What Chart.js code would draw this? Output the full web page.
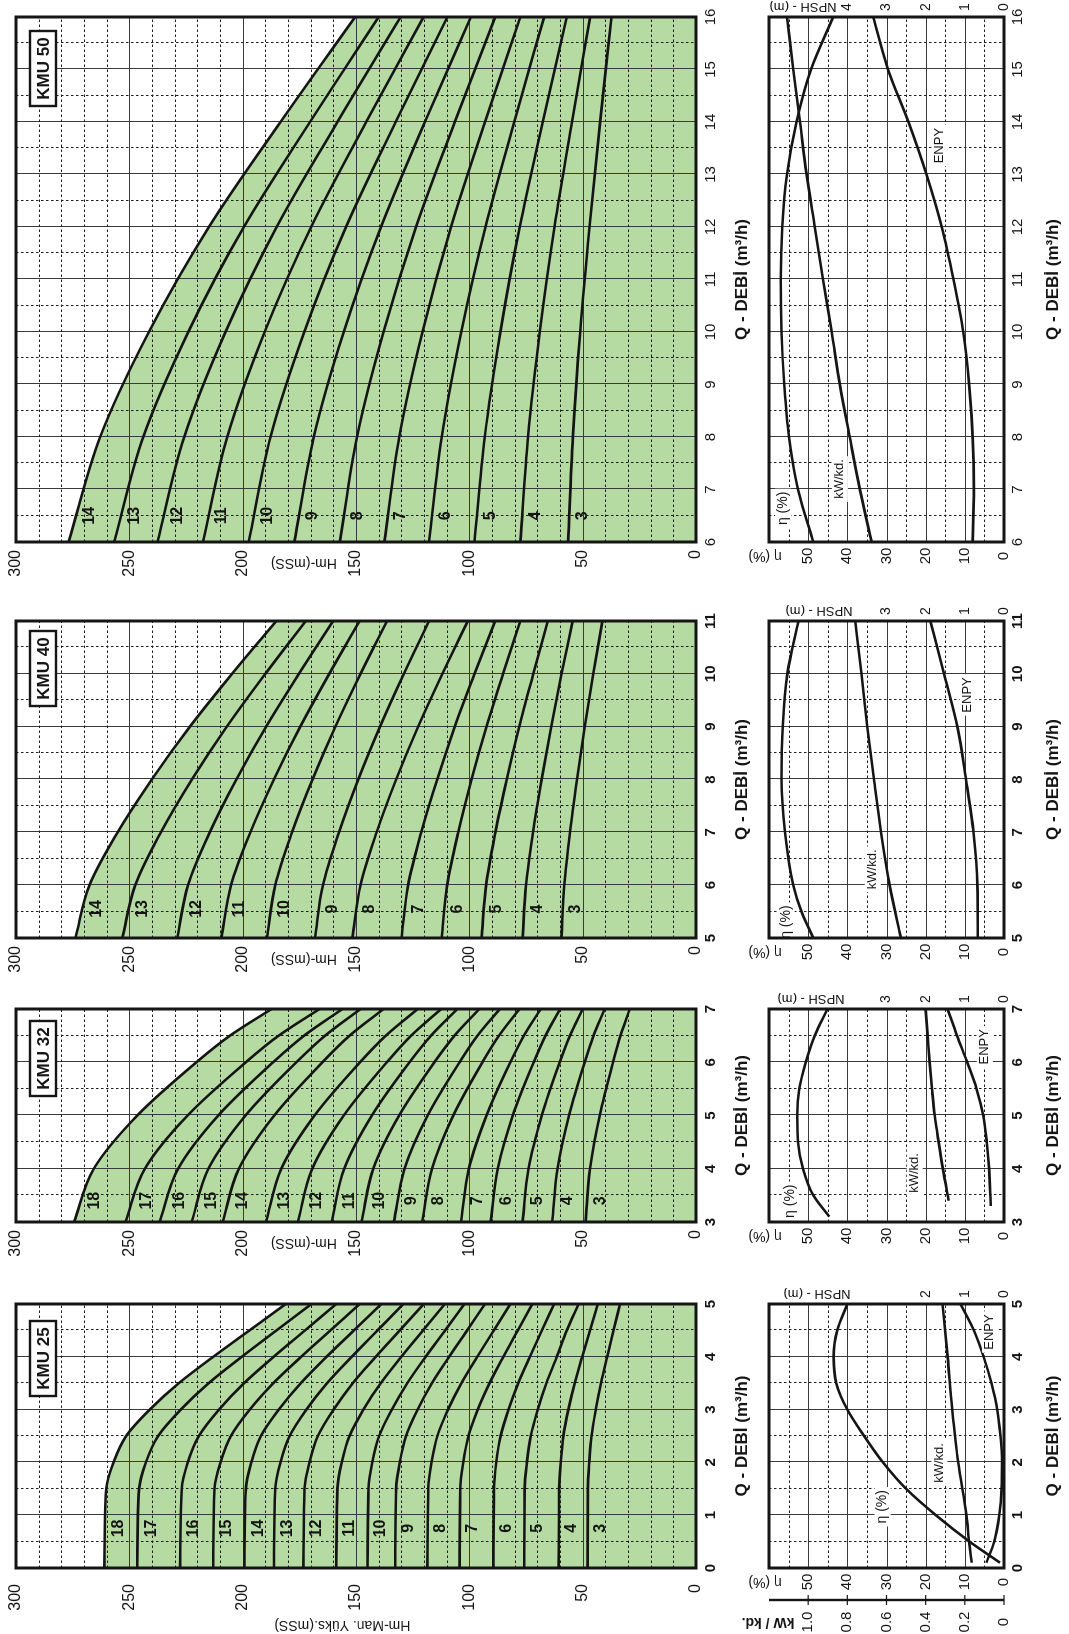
<!DOCTYPE html>
<html>
<head>
<meta charset="utf-8">
<script src="https://cdn.jsdelivr.net/npm/chart.js@4/dist/chart.umd.min.js"></script>
<style>
html, body { margin: 0; padding: 0; background: #fff; overflow: hidden; }
body { width: 1069px; height: 1634px; position: relative; }
/* the sheet is laid out landscape and turned a quarter left, like the printed page */
#page { position: absolute; left: 0; top: 0; width: 1634px; height: 1069px;
        transform-origin: 0 0; transform: translate(0, 1634px) rotate(-90deg); }
#page canvas { position: absolute; }
</style>
</head>
<body>
<div id="page"></div>
<script>
/* pump curves KMU 25 / 32 / 40 / 50 */

// tick labels shared by the sheets
const headTicks = [0, 50, 100, 150, 200, 250, 300];
const etaTicks = [0, 10, 20, 30, 40, 50];
const kwTicks = [0, 0.2, 0.4, 0.6, 0.8, 1.0];

// ---------- KMU 25 ----------
const kmu25QTicks = [0, 1, 2, 3, 4, 5];
const kmu25Q = [0, 1.5, 2, 2.5, 3, 3.5, 4, 4.5, 5];
const kmu25Stages = [18, 17, 16, 15, 14, 13, 12, 11, 10, 9, 8, 7, 6, 5, 4, 3];
const kmu25Head = [
    [261, 260.2, 257, 251.4, 241, 228.2, 213, 197, 181],
    [246.5, 245.7, 242.7, 237.3, 227.3, 215, 200.4, 185.1, 169.7],
    [227.6, 226.9, 224.2, 219.3, 210.4, 199.4, 186.3, 172.5, 158.7],
    [213, 212.4, 209.8, 205.2, 196.9, 186.5, 174.2, 161.3, 148.4],
    [199.2, 198.6, 196.2, 192, 184.1, 174.4, 163, 150.9, 138.8],
    [186.2, 185.6, 183.3, 179.3, 171.9, 162.8, 151.9, 140.5, 129.1],
    [173.2, 172.7, 170.5, 166.8, 159.9, 151.4, 141.3, 130.7, 120.1],
    [158.7, 158.2, 156.3, 152.9, 146.7, 139.1, 130, 120.4, 110.8],
    [144.9, 144.5, 142.8, 139.8, 134.2, 127.4, 119.3, 110.7, 102.2],
    [132.7, 132.3, 130.7, 127.9, 122.8, 116.5, 108.9, 101, 93.1],
    [118.5, 118.1, 116.7, 114.1, 109.4, 103.5, 96.5, 89.2, 81.9],
    [104.3, 104, 102.7, 100.4, 96.3, 91.1, 85, 78.6, 72.2],
    [89.4, 89.1, 88.1, 86.2, 82.7, 78.4, 73.3, 68, 62.6],
    [75.8, 75.6, 74.6, 72.9, 69.8, 66, 61.4, 57, 51.8],
    [60.6, 60.4, 59.7, 58.5, 56.3, 53.5, 50.2, 46.8, 43.3],
    [47.8, 47.7, 47.1, 46.1, 44.2, 41.9, 39.2, 36.4, 33.5]
];
const kmu25EtaQ = [0.1, 0.5, 1, 1.5, 2, 2.5, 3, 3.5, 4, 4.5, 5];
const kmu25Eta = [1, 8.8, 17.4, 25, 30.9, 35.7, 40, 42.8, 43.5, 42.6, 40];
const kmu25KwQ = [0.1, 0.5, 1, 2, 3, 4, 5];
const kmu25Kw = [0.165, 0.178, 0.192, 0.234, 0.264, 0.288, 0.314];
const kmu25NpshQ = [0.1, 0.5, 1, 1.5, 2, 2.5, 3, 3.5, 4, 4.5, 5];
const kmu25Npsh = [0.45, 0.25, 0.12, 0.06, 0.05, 0.09, 0.17, 0.32, 0.52, 0.77, 1.11];
const kmu25NpshTicks = [0, 1, 2];

// ---------- KMU 32 ----------
const kmu32QTicks = [3, 4, 5, 6, 7];
const kmu32Q = [3, 4, 5, 6, 6.5, 7];
const kmu32Stages = [18, 17, 16, 15, 14, 13, 12, 11, 10, 9, 8, 7, 6, 5, 4, 3];
const kmu32Head = [
    [274.4, 265.7, 246.5, 220.4, 205.6, 187.3],
    [251.7, 243.1, 224.3, 198.6, 184.1, 166.1],
    [236.6, 228.5, 210.8, 186.6, 172.9, 156.0],
    [222.5, 215.1, 198.7, 176.3, 163.6, 148.0],
    [208.8, 201.7, 186.1, 164.8, 152.8, 137.9],
    [189.7, 183.0, 168.3, 148.2, 136.8, 122.8],
    [175.6, 169.3, 155.4, 136.4, 125.7, 112.4],
    [160.7, 155.2, 143.0, 126.4, 116.9, 105.3],
    [147.6, 142.4, 131.0, 115.4, 106.5, 95.6],
    [133.3, 128.6, 118.4, 104.3, 96.4, 86.6],
    [120.8, 116.5, 107.1, 94.2, 86.9, 77.9],
    [103.7, 100.2, 92.4, 81.9, 75.9, 68.5],
    [90.6, 87.5, 80.8, 71.6, 66.4, 60.0],
    [76.5, 73.9, 68.0, 60.1, 55.6, 50.0],
    [63.4, 61.1, 56.0, 49.1, 45.2, 40.3],
    [48.7, 46.8, 42.5, 36.6, 33.3, 29.2]
];
const kmu32EtaQ = [3.1, 3.5, 4, 4.5, 5, 5.5, 6, 6.5, 7];
const kmu32Eta = [44.6, 48.7, 51.3, 52.6, 52.8, 52.3, 50.6, 48.3, 45.1];
const kmu32KwQ = [3.4, 4, 4.5, 5, 5.5, 6, 6.5, 7];
const kmu32Kw = [14.1, 15.6, 16.7, 17.7, 18.4, 19, 19.5, 20];
const kmu32NpshQ = [3.3, 4, 4.5, 5, 5.5, 6, 6.5, 7];
const kmu32Npsh = [0.34, 0.38, 0.44, 0.53, 0.7, 0.94, 1.2, 1.44];
const kmu32NpshTicks = [0, 1, 2, 3];

// ---------- KMU 40 ----------
const kmu40QTicks = [5, 6, 7, 8, 9, 10, 11];
const kmu40Q = [5, 6, 7, 8, 9, 10, 11];
const kmu40Stages = [14, 13, 12, 11, 10, 9, 8, 7, 6, 5, 4, 3];
const kmu40Head = [
    [273.8, 267.6, 255.2, 240.1, 223.3, 204.7, 185.2],
    [253.1, 247.4, 236.1, 222.4, 207.0, 190.0, 172.2],
    [228.9, 224.1, 214.5, 202.8, 189.7, 175.2, 160.1],
    [209.4, 205.1, 196.6, 186.2, 174.6, 161.8, 148.4],
    [189.3, 185.6, 178.2, 169.2, 159.1, 148.0, 136.3],
    [168.1, 164.6, 157.5, 149.0, 139.4, 128.9, 117.8],
    [151.6, 148.0, 140.9, 132.3, 122.6, 111.9, 100.7],
    [129.9, 127.0, 121.2, 114.2, 106.4, 97.7, 88.6],
    [112.2, 109.8, 104.9, 99.0, 92.4, 85.1, 77.5],
    [94.6, 92.6, 88.5, 83.5, 78.0, 71.8, 65.4],
    [76.5, 75.0, 71.9, 68.1, 63.9, 59.3, 54.4],
    [59.4, 58.1, 55.6, 52.5, 49.1, 45.3, 41.3]
];
const kmu40EtaQ = [5, 5.5, 6, 7, 8, 9, 10, 11];
const kmu40Eta = [48.7, 51.7, 53.8, 55.9, 56.8, 56.5, 55.3, 52.5];
const kmu40KwQ = [5, 6, 7, 8, 9, 10, 11];
const kmu40Kw = [26.3, 29.2, 31.4, 33.2, 34.9, 36.4, 38];
const kmu40NpshQ = [5, 6, 7, 8, 9, 10, 11];
const kmu40Npsh = [0.67, 0.68, 0.78, 0.97, 1.19, 1.53, 1.88];
const kmu40NpshTicks = [0, 1, 2, 3];

// ---------- KMU 50 ----------
const kmu50QTicks = [6, 7, 8, 9, 10, 11, 12, 13, 14, 15, 16];
const kmu50Q = [6, 8, 10, 12, 14, 16];
const kmu50Stages = [14, 13, 12, 11, 10, 9, 8, 7, 6, 5, 4, 3];
const kmu50Head = [
    [276.8, 262.9, 241.4, 214.9, 183.3, 150.4],
    [256.7, 243.9, 224.0, 199.5, 170.3, 140.0],
    [237.6, 225.8, 207.6, 185.0, 158.2, 130.3],
    [217.5, 206.8, 190.3, 169.8, 145.5, 120.2],
    [197.3, 187.7, 172.8, 154.4, 132.5, 109.7],
    [177.2, 168.6, 155.4, 139.0, 119.6, 99.3],
    [157.1, 149.6, 137.9, 123.5, 106.4, 88.6],
    [137.5, 130.9, 120.7, 108.1, 93.1, 77.5],
    [117.8, 112.2, 103.6, 92.9, 80.2, 67.0],
    [97.7, 93.2, 86.3, 77.8, 67.6, 57.0],
    [77.5, 74.1, 68.9, 62.4, 54.7, 46.7],
    [56.4, 54.3, 51.1, 47.0, 42.3, 37.3]
];
const kmu50EffQ = [6, 7, 8, 9, 10, 11, 12, 13, 14, 15, 16];
const kmu50Eta = [48.7, 52.6, 54.9, 56.1, 56.8, 57, 56.6, 55.4, 53, 49.3, 43.6];
const kmu50Kw = [33.8, 36.8, 39.4, 41.9, 44, 46.2, 48.3, 50.4, 52.1, 53.8, 55.4];
const kmu50Npsh = [0.8, 0.77, 0.8, 0.89, 1.04, 1.29, 1.59, 1.98, 2.44, 2.96, 3.34];
const kmu50NpshTicks = [0, 1, 2, 3, 4];

const effLabels = ['η (%)', 'kW/kd.', 'ENPY'];

// ---------- drawing helpers ----------
const FONT = '"Liberation Sans", Arial, Helvetica, sans-serif';
const INK = '#151515';
const GREEN = '#b6dba2';
const page = document.getElementById('page');

const addCanvas = (left, top, width, height) => {
    const c = document.createElement('canvas');
    c.width = width;
    c.height = height;
    c.style.left = left + 'px';
    c.style.top = top + 'px';
    c.style.width = width + 'px';
    c.style.height = height + 'px';
    page.appendChild(c);
    return c;
};

const points = (xs, ys) => xs.map((x, i) => ({ x: x, y: ys[i] }));

// linear lookup, only used to park the stage numbers next to their curve
const valueAt = (xs, ys, x) => {
    for (let i = 1; i < xs.length; i += 1) {
        if (x <= xs[i]) {
            const t = (x - xs[i - 1]) / (xs[i] - xs[i - 1]);
            return ys[i - 1] + t * (ys[i] - ys[i - 1]);
        }
    }
    return ys[ys.length - 1];
};

const text = (ctx, s, x, y, font, align, rot) => {
    ctx.save();
    ctx.font = font;
    ctx.fillStyle = INK;
    ctx.textAlign = align || 'center';
    ctx.textBaseline = 'middle';
    ctx.translate(x, y);
    if (rot) ctx.rotate(rot);
    ctx.fillText(s, 0, 0);
    ctx.restore();
};

const gridLine = (ctx, x1, y1, x2, y2, major) => {
    ctx.beginPath();
    ctx.setLineDash(major ? [] : [2.5, 2.5]);
    ctx.strokeStyle = major ? '#3a3a3a' : '#1e1e1e';
    ctx.moveTo(x1, y1);
    ctx.lineTo(x2, y2);
    ctx.stroke();
};

/* solid lines on whole Q and on every yMajor, dashed on half Q and every yMinor */
const drawGrid = (chart, yMinor, yMajor) => {
    const { ctx, chartArea: a } = chart;
    const xs = chart.scales.x;
    const ys = chart.scales.y;
    ctx.save();
    ctx.lineWidth = 1;
    for (let q = xs.min + 0.5; q < xs.max - 1e-6; q += 0.5) {
        const px = Math.round(xs.getPixelForValue(q)) + 0.5;
        gridLine(ctx, px, a.top, px, a.bottom, Math.abs(q - Math.round(q)) < 1e-6);
    }
    for (let h = yMinor; h < ys.max - 1e-6; h += yMinor) {
        const py = Math.round(ys.getPixelForValue(h)) + 0.5;
        gridLine(ctx, a.left, py, a.right, py, Math.abs(h / yMajor - Math.round(h / yMajor)) < 1e-6);
    }
    ctx.restore();
};

const drawFrame = (chart) => {
    const { ctx, chartArea: a } = chart;
    ctx.save();
    ctx.lineWidth = 3;
    ctx.strokeStyle = INK;
    ctx.strokeRect(a.left, a.top, a.right - a.left, a.bottom - a.top);
    ctx.restore();
};

const qTitle = 'Q - DEBİ (m³/h)';

const drawQAxis = (chart, ticks, bold, tickGap, titleGap) => {
    const { ctx, chartArea: a, scales: { x } } = chart;
    const font = (bold ? 'bold ' : '') + '15px ' + FONT;
    ticks.forEach((q) => text(ctx, String(q), x.getPixelForValue(q), a.bottom + tickGap, font));
    text(ctx, qTitle, (a.left + a.right) / 2, a.bottom + titleGap, 'bold 17px ' + FONT);
};

const baseOptions = (padding) => ({
    responsive: false,
    animation: false,
    events: [],
    devicePixelRatio: 1,
    layout: { padding: padding },
    plugins: { legend: { display: false }, tooltip: { enabled: false } },
    elements: { point: { radius: 0 } }
});

const curve = (data, yAxisID) => ({
    data: data,
    yAxisID: yAxisID || 'y',
    borderColor: INK,
    borderWidth: 2.6,
    pointRadius: 0,
    fill: false,
    cubicInterpolationMode: 'monotone'
});

/* head chart: one curve per stage count, green area under the top curve */
const headChart = (p) => {
    const left = p.plotLeft - 66;
    const canvas = addCanvas(left, 0, p.plotRight - left + 14, 760);

    const datasets = p.stages.map((s, i) => curve(points(p.q, p.heads[i])));
    datasets.push({
        data: points(p.q, p.heads[0]),
        borderColor: 'rgba(0,0,0,0)',
        borderWidth: 1,
        backgroundColor: GREEN,
        fill: 'origin',
        pointRadius: 0,
        cubicInterpolationMode: 'monotone',
        isFill: true
    });

    const decor = {
        id: 'headDecor',
        afterDatasetDraw(chart, args) {
            if (chart.data.datasets[args.index].isFill) drawGrid(chart, 10, 50);
        },
        afterDatasetsDraw(chart) {
            const { ctx, chartArea: a, scales: { x, y } } = chart;

            p.stages.forEach((s, i) => {
                const h = valueAt(p.q, p.heads[i], p.labelQ);
                text(ctx, String(s), x.getPixelForValue(p.labelQ), y.getPixelForValue(h) + 13, 'bold 16px ' + FONT);
            });

            drawFrame(chart);

            headTicks.forEach((h) => text(ctx, String(h), a.left - p.tickGap, y.getPixelForValue(h), '16px ' + FONT, 'right'));
            if (p.longTitle) {
                text(ctx, 'Hm-Man. Yüks.(mSS)', a.left - 57, y.getPixelForValue(156), '14px ' + FONT, 'center', -Math.PI / 2);
            } else {
                text(ctx, 'Hm-(mSS)', a.left - 21, y.getPixelForValue(173), '14px ' + FONT, 'center', -Math.PI / 2);
            }

            drawQAxis(chart, p.qTicks, p.qBold, 15, 46);

            // model name box in the top corner
            const bw = 75;
            const bh = 26;
            const bx = a.right - p.boxGap - bw;
            const by = a.top + 14;
            ctx.save();
            ctx.fillStyle = '#fff';
            ctx.fillRect(bx, by, bw, bh);
            ctx.lineWidth = 2.4;
            ctx.strokeStyle = INK;
            ctx.strokeRect(bx, by, bw, bh);
            ctx.restore();
            text(ctx, p.name, bx + bw / 2, by + bh / 2 + 1, 'bold 17px ' + FONT);
        }
    };

    new Chart(canvas, {
        type: 'line',
        data: { datasets: datasets },
        options: Object.assign(baseOptions({ left: 66, right: 14, top: 16, bottom: 64 }), {
            scales: {
                x: { type: 'linear', min: p.qMin, max: p.qMax, display: false },
                y: { type: 'linear', min: 0, max: 300, display: false }
            }
        }),
        plugins: [decor]
    });
};

/* efficiency / power / NPSH chart under each head chart */
const effChart = (p) => {
    const left = p.plotLeft - 66;
    const canvas = addCanvas(left, 735, p.plotRight - left + 16, 334);

    const datasets = [
        curve(points(p.etaQ, p.eta)),
        curve(points(p.kwQ, p.kw), p.kwAxis ? 'yK' : 'y'),
        curve(points(p.npshQ, p.npsh), 'yN')
    ];

    const scales = {
        x: { type: 'linear', min: p.qMin, max: p.qMax, display: false },
        y: { type: 'linear', min: 0, max: 60, display: false },
        yN: { type: 'linear', min: 0, max: 6, display: false }
    };
    if (p.kwAxis) scales.yK = { type: 'linear', min: 0, max: 1.2, display: false };

    const decor = {
        id: 'effDecor',
        beforeDatasetsDraw(chart) {
            drawGrid(chart, 5, 10);
        },
        afterDatasetsDraw(chart) {
            const { ctx, chartArea: a, scales: { x, y } } = chart;

            effLabels.forEach((s, i) => {
                const font = (i === 0 ? '14px ' : '13px ') + FONT;
                const cx = x.getPixelForValue(p.labelAt[i][0]);
                const cy = y.getPixelForValue(p.labelAt[i][1]);
                ctx.save();
                ctx.font = font;
                const w = ctx.measureText(s).width;
                ctx.fillStyle = '#fff';
                ctx.fillRect(cx - w / 2 - 3, cy - 8, w + 6, 16);
                ctx.restore();
                text(ctx, s, cx, cy, font);
            });

            drawFrame(chart);

            etaTicks.forEach((v) => text(ctx, String(v), a.left - 14, y.getPixelForValue(v), '15px ' + FONT));
            text(ctx, 'η (%)', a.left - 14, a.top - 4, '14px ' + FONT, 'center', -Math.PI / 2);

            const yN = chart.scales.yN;
            p.npshTicks.forEach((v) => text(ctx, String(v), a.right + 10, yN.getPixelForValue(v), '14px ' + FONT));
            text(ctx, 'NPSH - (m)', a.right + 10, a.top + p.npshTitleAt, '13px ' + FONT, 'center', -Math.PI / 2);

            if (p.kwAxis) {
                const yK = chart.scales.yK;
                const ax = a.left - 32;
                ctx.save();
                ctx.strokeStyle = INK;
                ctx.lineWidth = 2.4;
                ctx.beginPath();
                ctx.moveTo(ax, a.top);
                ctx.lineTo(ax, a.bottom);
                ctx.stroke();
                ctx.lineWidth = 1.2;
                kwTicks.forEach((v) => {
                    const py = yK.getPixelForValue(v);
                    ctx.beginPath();
                    ctx.moveTo(ax - 5, py);
                    ctx.lineTo(ax + 5, py);
                    ctx.stroke();
                });
                ctx.restore();
                kwTicks.forEach((v) => text(ctx, v === 0 ? '0' : v.toFixed(1), a.left - 54, yK.getPixelForValue(v), '15px ' + FONT));
                text(ctx, 'kW / kd.', a.left - 54, a.top - 1, 'bold 14px ' + FONT, 'center', -Math.PI / 2);
            }

            drawQAxis(chart, p.qTicks, p.qBold, 14, 49);
        }
    };

    new Chart(canvas, {
        type: 'line',
        data: { datasets: datasets },
        options: Object.assign(baseOptions({ left: 66, right: 16, top: 34, bottom: 65 }), { scales: scales }),
        plugins: [decor]
    });
};

// ---------- the four sheets, left to right on the landscape page ----------
headChart({ name: 'KMU 25', plotLeft: 66, plotRight: 330, qMin: 0, qMax: 5, q: kmu25Q, stages: kmu25Stages,
    heads: kmu25Head, qTicks: kmu25QTicks, labelQ: 0.75, tickGap: 16, boxGap: 17, qBold: true, longTitle: true });
effChart({ plotLeft: 66, plotRight: 330, qMin: 0, qMax: 5, qTicks: kmu25QTicks, qBold: true,
    etaQ: kmu25EtaQ, eta: kmu25Eta, kwQ: kmu25KwQ, kw: kmu25Kw, npshQ: kmu25NpshQ, npsh: kmu25Npsh,
    npshTicks: kmu25NpshTicks, kwAxis: true, npshTitleAt: 48,
    labelAt: [[1.16, 31], [1.99, 16.5], [4.47, 3.6]] });

headChart({ name: 'KMU 32', plotLeft: 412, plotRight: 625, qMin: 3, qMax: 7, q: kmu32Q, stages: kmu32Stages,
    heads: kmu32Head, qTicks: kmu32QTicks, labelQ: 3.4, tickGap: 8, boxGap: 12, qBold: true });
effChart({ plotLeft: 412, plotRight: 625, qMin: 3, qMax: 7, qTicks: kmu32QTicks, qBold: true,
    etaQ: kmu32EtaQ, eta: kmu32Eta, kwQ: kmu32KwQ, kw: kmu32Kw, npshQ: kmu32NpshQ, npsh: kmu32Npsh,
    npshTicks: kmu32NpshTicks, kwAxis: false, npshTitleAt: 42,
    labelAt: [[3.39, 54.5], [3.92, 22.8], [6.29, 4.9]] });

headChart({ name: 'KMU 40', plotLeft: 696, plotRight: 1013, qMin: 5, qMax: 11, q: kmu40Q, stages: kmu40Stages,
    heads: kmu40Head, qTicks: kmu40QTicks, labelQ: 5.55, tickGap: 8, boxGap: 10, qBold: true });
effChart({ plotLeft: 696, plotRight: 1013, qMin: 5, qMax: 11, qTicks: kmu40QTicks, qBold: true,
    etaQ: kmu40EtaQ, eta: kmu40Eta, kwQ: kmu40KwQ, kw: kmu40Kw, npshQ: kmu40NpshQ, npsh: kmu40Npsh,
    npshTicks: kmu40NpshTicks, kwAxis: false, npshTitleAt: 50,
    labelAt: [[5.3, 55.5], [6.3, 33.5], [9.6, 9.3]] });

headChart({ name: 'KMU 50', plotLeft: 1092, plotRight: 1617, qMin: 6, qMax: 16, q: kmu50Q, stages: kmu50Stages,
    heads: kmu50Head, qTicks: kmu50QTicks, labelQ: 6.5, tickGap: 8, boxGap: 14, qBold: false });
effChart({ plotLeft: 1092, plotRight: 1617, qMin: 6, qMax: 16, qTicks: kmu50QTicks, qBold: false,
    etaQ: kmu50EffQ, eta: kmu50Eta, kwQ: kmu50EffQ, kw: kmu50Kw, npshQ: kmu50EffQ, npsh: kmu50Npsh,
    npshTicks: kmu50NpshTicks, kwAxis: false, npshTitleAt: 34,
    labelAt: [[6.64, 56.4], [7.2, 41.9], [13.55, 16.4]] });
</script>
</body>
</html>
